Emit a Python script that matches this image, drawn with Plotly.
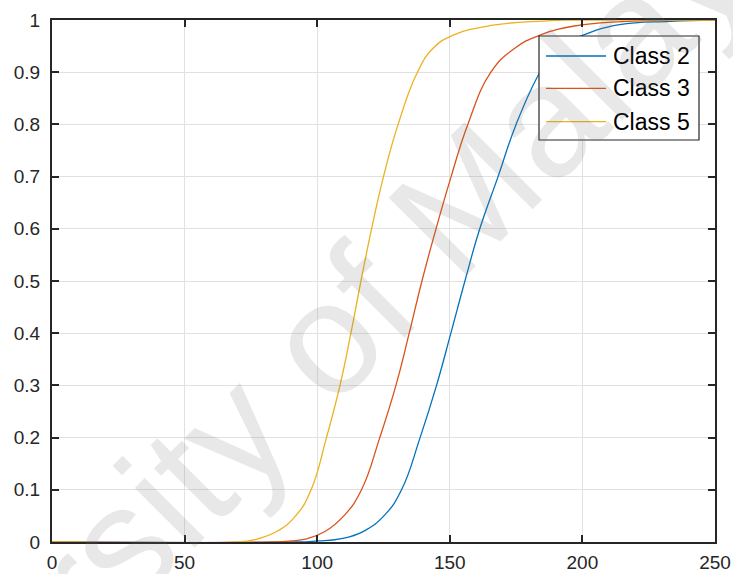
import plotly.graph_objects as go

# ---- data ----
series_names = ["Class 2", "Class 3", "Class 5"]
series_colors = ["#0072BD", "#D95319", "#EDB120"]

class2_x = [0, 92, 100, 108.6, 117.3, 125.5, 131.8, 138.8, 145.0, 150.4,
            155.7, 161.3, 168.2, 175.0, 184.0, 190.0, 200.3, 214.0, 233.0, 250]
class2_y = [0, 0, 0.002, 0.006, 0.02, 0.052, 0.1, 0.2, 0.3, 0.4,
            0.5, 0.6, 0.7, 0.8, 0.9, 0.943, 0.971, 0.991, 0.9975, 1.0]

class3_x = [0, 82, 90, 96.0, 102.9, 110.4, 116.7, 123.6, 129.7, 134.7,
            139.5, 144.8, 150.5, 156.8, 165.5, 174.5, 184.0, 196.5, 215.0, 240, 250]
class3_y = [0, 0, 0.002, 0.006, 0.02, 0.052, 0.1, 0.2, 0.3, 0.4,
            0.5, 0.6, 0.7, 0.8, 0.9, 0.946, 0.971, 0.988, 0.997, 1.0, 1.0]

class5_x = [0, 70, 76.0, 84.7, 92.2, 97.7, 103.5, 108.6, 112.7, 116.5,
            120.5, 125.0, 130.5, 137.8, 143.7, 151.3, 166.3, 185.0, 200, 250]
class5_y = [0, 0, 0.004, 0.02, 0.052, 0.1, 0.2, 0.3, 0.4, 0.5,
            0.6, 0.7, 0.8, 0.9, 0.946, 0.971, 0.99, 0.998, 1.0, 1.0]

x_ticks = [0, 50, 100, 150, 200, 250]
y_ticks = [0, 0.1, 0.2, 0.3, 0.4, 0.5, 0.6, 0.7, 0.8, 0.9, 1]
y_tick_labels = ["0", "0.1", "0.2", "0.3", "0.4", "0.5", "0.6", "0.7", "0.8", "0.9", "1"]

watermark_text = "University of Malaya"

# ---- figure ----
FONT = "Liberation Sans, Arial, sans-serif"
AX = "#262626"
W, H = 733, 574
ML, MR, MT, MB = 52, 18, 20, 32
PW, PH = W - ML - MR, H - MT - MB

def px_x(p):
    return (p - ML) / PW

def px_y(p):
    return (H - MB - p) / PH

fig = go.Figure()
for xs, ys, name, col in [(class2_x, class2_y, series_names[0], series_colors[0]),
                          (class3_x, class3_y, series_names[1], series_colors[1]),
                          (class5_x, class5_y, series_names[2], series_colors[2])]:
    fig.add_trace(go.Scatter(x=xs, y=ys, mode="lines", name=name,
                             line=dict(color=col, width=1.3, shape="spline", smoothing=1.3),
                             showlegend=False, hoverinfo="skip"))

axis_common = dict(showline=True, linecolor=AX, linewidth=2, mirror="allticks",
                   ticks="inside", ticklen=7, tickwidth=2, tickcolor=AX,
                   showgrid=True, gridcolor="#e1e1e1", gridwidth=1, zeroline=False,
                   automargin=False,
                   tickfont=dict(family=FONT, size=19, color=AX))

fig.update_xaxes(range=[0, 250], tickvals=x_ticks, ticklabelstandoff=2, **axis_common)
fig.update_yaxes(range=[0, 1], tickvals=y_ticks, ticktext=y_tick_labels,
                 ticklabelstandoff=6, **axis_common)

# legend (MATLAB style box)
shapes = [dict(type="rect", xref="paper", yref="paper",
               x0=px_x(539), x1=px_x(699), y0=px_y(140), y1=px_y(36),
               fillcolor="white", line=dict(color=AX, width=1.2), layer="above")]
annotations = []
row_px = [56, 88.3, 121.7]
for name, col, ry in zip(series_names, series_colors, row_px):
    shapes.append(dict(type="line", xref="paper", yref="paper",
                       x0=px_x(546), x1=px_x(606), y0=px_y(ry), y1=px_y(ry),
                       line=dict(color=col, width=1.3), layer="above"))
    annotations.append(dict(xref="paper", yref="paper", x=px_x(611), y=px_y(ry),
                            xanchor="left", yanchor="middle", showarrow=False,
                            text=name, font=dict(family=FONT, size=23, color="black")))

# watermark
annotations.append(dict(xref="paper", yref="paper", x=px_x(273), y=px_y(390),
                        xanchor="center", yanchor="middle", showarrow=False,
                        text=watermark_text, textangle=-45,
                        font=dict(family=FONT, size=160, color="rgba(120,120,120,0.17)")))

fig.update_layout(width=W, height=H, margin=dict(l=ML, r=MR, t=MT, b=MB),
                  plot_bgcolor="white", paper_bgcolor="white",
                  shapes=shapes, annotations=annotations, showlegend=False)

fig.write_html("out.html")
